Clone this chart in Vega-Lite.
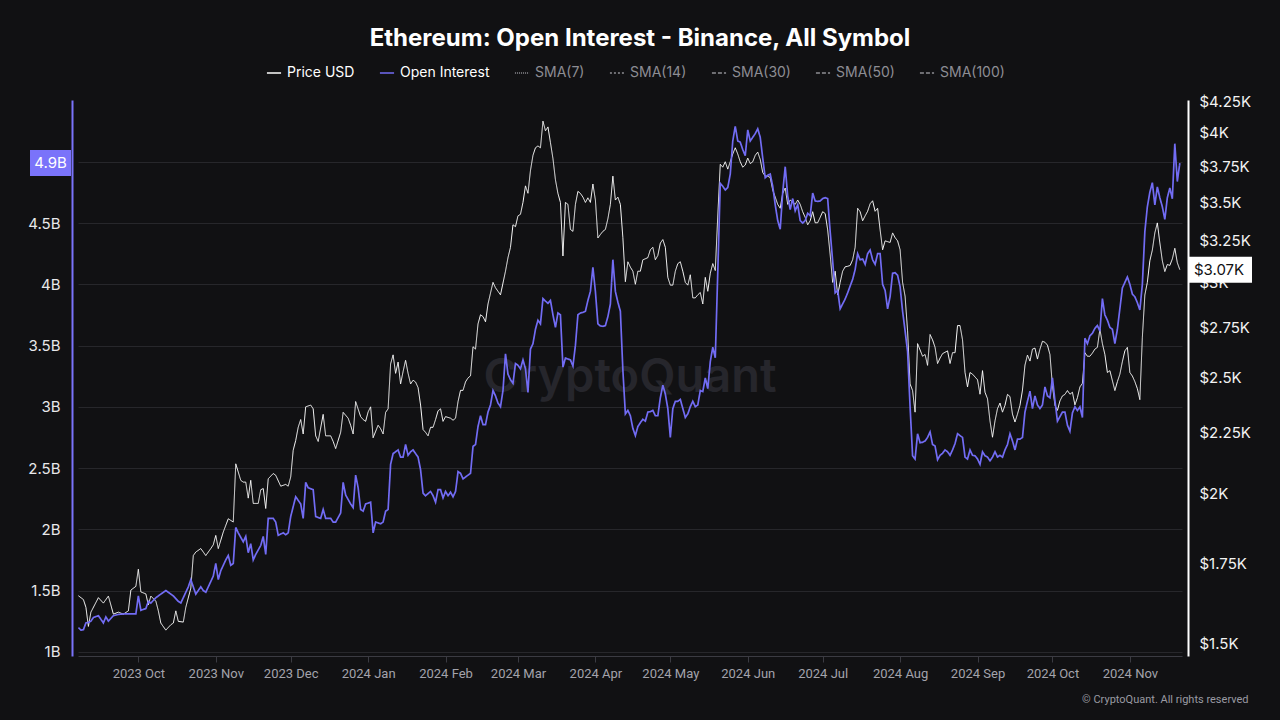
{
  "$schema": "https://vega.github.io/schema/vega-lite/v6.json",
  "width": 1104,
  "height": 556,
  "autosize": {"type": "none"},
  "padding": {"left": 78, "top": 100, "right": 98, "bottom": 64},
  "background": "#111113",
  "title": {
    "text": "Ethereum: Open Interest - Binance, All Symbol",
    "anchor": "middle",
    "frame": "group",
    "dx": 10,
    "offset": 14,
    "fontSize": 24,
    "fontWeight": "bold",
    "font": "Inter",
    "color": "#ffffff"
  },
  "datasets": {
    "latest": [{"oi": 4.99e9, "price": 3075, "oiLabel": "4.9B", "priceLabel": "$3.07K"}],
    "price": [
      {"date":"2023-09-07","price":1644},{"date":"2023-09-09","price":1632},{"date":"2023-09-10","price":1608},{"date":"2023-09-11","price":1550},{"date":"2023-09-12","price":1593},{"date":"2023-09-15","price":1638},{"date":"2023-09-17","price":1621},{"date":"2023-09-19","price":1643},{"date":"2023-09-21","price":1587},{"date":"2023-09-23","price":1593},{"date":"2023-09-25","price":1587},{"date":"2023-09-27","price":1597},{"date":"2023-09-28","price":1662},{"date":"2023-09-30","price":1674},
      {"date":"2023-10-01","price":1730},{"date":"2023-10-02","price":1656},{"date":"2023-10-04","price":1650},{"date":"2023-10-05","price":1615},{"date":"2023-10-06","price":1643},{"date":"2023-10-08","price":1627},{"date":"2023-10-09","price":1597},{"date":"2023-10-10","price":1560},{"date":"2023-10-12","price":1539},{"date":"2023-10-14","price":1555},{"date":"2023-10-15","price":1560},{"date":"2023-10-16","price":1597},{"date":"2023-10-17","price":1565},{"date":"2023-10-19","price":1563},{"date":"2023-10-20","price":1608},{"date":"2023-10-22","price":1668},{"date":"2023-10-23","price":1776},{"date":"2023-10-24","price":1788},{"date":"2023-10-26","price":1800},{"date":"2023-10-28","price":1776},{"date":"2023-10-30","price":1800},{"date":"2023-10-31","price":1813},
      {"date":"2023-11-01","price":1846},{"date":"2023-11-02","price":1800},{"date":"2023-11-04","price":1858},{"date":"2023-11-06","price":1906},{"date":"2023-11-08","price":1894},{"date":"2023-11-09","price":2118},{"date":"2023-11-11","price":2052},{"date":"2023-11-12","price":2045},{"date":"2023-11-13","price":2045},{"date":"2023-11-14","price":1983},{"date":"2023-11-15","price":2052},{"date":"2023-11-16","price":1963},{"date":"2023-11-18","price":1963},{"date":"2023-11-19","price":2015},{"date":"2023-11-20","price":2020},{"date":"2023-11-21","price":1944},{"date":"2023-11-22","price":2058},{"date":"2023-11-24","price":2079},{"date":"2023-11-25","price":2072},{"date":"2023-11-27","price":2029},{"date":"2023-11-29","price":2036},{"date":"2023-11-30","price":2029},
      {"date":"2023-12-01","price":2065},{"date":"2023-12-02","price":2174},{"date":"2023-12-03","price":2215},{"date":"2023-12-04","price":2272},{"date":"2023-12-05","price":2306},{"date":"2023-12-06","price":2243},{"date":"2023-12-07","price":2363},{"date":"2023-12-09","price":2371},{"date":"2023-12-10","price":2354},{"date":"2023-12-11","price":2235},{"date":"2023-12-12","price":2211},{"date":"2023-12-14","price":2329},{"date":"2023-12-15","price":2235},{"date":"2023-12-17","price":2235},{"date":"2023-12-18","price":2211},{"date":"2023-12-19","price":2181},{"date":"2023-12-21","price":2250},{"date":"2023-12-22","price":2338},{"date":"2023-12-24","price":2312},{"date":"2023-12-25","price":2281},{"date":"2023-12-26","price":2243},{"date":"2023-12-27","price":2387},{"date":"2023-12-29","price":2319},{"date":"2023-12-30","price":2306},{"date":"2023-12-31","price":2298},
      {"date":"2024-01-01","price":2340},{"date":"2024-01-02","price":2363},{"date":"2024-01-03","price":2227},{"date":"2024-01-05","price":2281},{"date":"2024-01-06","price":2266},{"date":"2024-01-07","price":2243},{"date":"2024-01-08","price":2338},{"date":"2024-01-09","price":2354},{"date":"2024-01-10","price":2566},{"date":"2024-01-11","price":2611},{"date":"2024-01-12","price":2520},{"date":"2024-01-13","price":2575},{"date":"2024-01-14","price":2469},{"date":"2024-01-15","price":2529},{"date":"2024-01-16","price":2584},{"date":"2024-01-17","price":2520},{"date":"2024-01-18","price":2469},{"date":"2024-01-19","price":2487},{"date":"2024-01-20","price":2478},{"date":"2024-01-21","price":2452},{"date":"2024-01-22","price":2371},{"date":"2024-01-23","price":2262},{"date":"2024-01-24","price":2250},{"date":"2024-01-25","price":2235},{"date":"2024-01-26","price":2272},{"date":"2024-01-27","price":2272},{"date":"2024-01-28","price":2306},{"date":"2024-01-29","price":2345},{"date":"2024-01-30","price":2354},{"date":"2024-01-31","price":2298},
      {"date":"2024-02-01","price":2319},{"date":"2024-02-03","price":2312},{"date":"2024-02-04","price":2303},{"date":"2024-02-05","price":2312},{"date":"2024-02-06","price":2387},{"date":"2024-02-07","price":2439},{"date":"2024-02-08","price":2439},{"date":"2024-02-09","price":2479},{"date":"2024-02-10","price":2498},{"date":"2024-02-11","price":2508},{"date":"2024-02-12","price":2652},{"date":"2024-02-13","price":2640},{"date":"2024-02-14","price":2771},{"date":"2024-02-15","price":2820},{"date":"2024-02-16","price":2810},{"date":"2024-02-17","price":2782},{"date":"2024-02-18","price":2879},{"date":"2024-02-19","price":2940},{"date":"2024-02-20","price":3001},{"date":"2024-02-21","price":2970},{"date":"2024-02-22","price":2950},{"date":"2024-02-23","price":2930},{"date":"2024-02-25","price":3066},{"date":"2024-02-26","price":3147},{"date":"2024-02-27","price":3210},{"date":"2024-02-28","price":3352},{"date":"2024-02-29","price":3340},
      {"date":"2024-03-01","price":3410},{"date":"2024-03-02","price":3420},{"date":"2024-03-03","price":3499},{"date":"2024-03-04","price":3612},{"date":"2024-03-05","price":3561},{"date":"2024-03-06","price":3720},{"date":"2024-03-07","price":3830},{"date":"2024-03-08","price":3886},{"date":"2024-03-09","price":3900},{"date":"2024-03-10","price":3886},{"date":"2024-03-11","price":4090},{"date":"2024-03-12","price":4015},{"date":"2024-03-13","price":4045},{"date":"2024-03-14","price":3925},{"date":"2024-03-15","price":3807},{"date":"2024-03-16","price":3654},{"date":"2024-03-17","price":3560},{"date":"2024-03-18","price":3499},{"date":"2024-03-19","price":3157},{"date":"2024-03-20","price":3499},{"date":"2024-03-21","price":3486},{"date":"2024-03-22","price":3322},{"date":"2024-03-23","price":3310},{"date":"2024-03-24","price":3486},{"date":"2024-03-25","price":3574},{"date":"2024-03-26","price":3560},{"date":"2024-03-27","price":3535},{"date":"2024-03-28","price":3499},{"date":"2024-03-29","price":3530},{"date":"2024-03-30","price":3499},{"date":"2024-03-31","price":3625},
      {"date":"2024-04-01","price":3515},{"date":"2024-04-02","price":3268},{"date":"2024-04-03","price":3290},{"date":"2024-04-04","price":3310},{"date":"2024-04-05","price":3322},{"date":"2024-04-06","price":3391},{"date":"2024-04-07","price":3486},{"date":"2024-04-08","price":3680},{"date":"2024-04-09","price":3515},{"date":"2024-04-10","price":3535},{"date":"2024-04-11","price":3486},{"date":"2024-04-12","price":3270},{"date":"2024-04-13","price":3005},{"date":"2024-04-14","price":3122},{"date":"2024-04-15","price":3090},{"date":"2024-04-16","price":3066},{"date":"2024-04-17","price":2990},{"date":"2024-04-18","price":3066},{"date":"2024-04-19","price":3066},{"date":"2024-04-20","price":3134},{"date":"2024-04-21","price":3140},{"date":"2024-04-22","price":3147},{"date":"2024-04-23","price":3195},{"date":"2024-04-24","price":3210},{"date":"2024-04-25","price":3134},{"date":"2024-04-26","price":3160},{"date":"2024-04-27","price":3236},{"date":"2024-04-28","price":3258},{"date":"2024-04-29","price":3210},{"date":"2024-04-30","price":3030},
      {"date":"2024-05-01","price":2985},{"date":"2024-05-02","price":2985},{"date":"2024-05-03","price":3066},{"date":"2024-05-04","price":3111},{"date":"2024-05-05","price":3122},{"date":"2024-05-06","price":3066},{"date":"2024-05-07","price":3001},{"date":"2024-05-08","price":2985},{"date":"2024-05-09","price":3045},{"date":"2024-05-10","price":2913},{"date":"2024-05-11","price":2913},{"date":"2024-05-12","price":2930},{"date":"2024-05-13","price":2943},{"date":"2024-05-14","price":2879},{"date":"2024-05-15","price":3030},{"date":"2024-05-16","price":2950},{"date":"2024-05-17","price":3054},{"date":"2024-05-18","price":3111},{"date":"2024-05-19","price":3070},{"date":"2024-05-20","price":3410},{"date":"2024-05-21","price":3765},{"date":"2024-05-22","price":3744},{"date":"2024-05-23","price":3783},{"date":"2024-05-24","price":3730},{"date":"2024-05-25","price":3783},{"date":"2024-05-26","price":3840},{"date":"2024-05-27","price":3886},{"date":"2024-05-28","price":3840},{"date":"2024-05-29","price":3783},{"date":"2024-05-30","price":3744},{"date":"2024-05-31","price":3760},
      {"date":"2024-06-01","price":3810},{"date":"2024-06-02","price":3770},{"date":"2024-06-03","price":3783},{"date":"2024-06-04","price":3830},{"date":"2024-06-05","price":3854},{"date":"2024-06-06","price":3800},{"date":"2024-06-07","price":3706},{"date":"2024-06-08","price":3680},{"date":"2024-06-09","price":3680},{"date":"2024-06-10","price":3670},{"date":"2024-06-11","price":3583},{"date":"2024-06-12","price":3535},{"date":"2024-06-13","price":3486},{"date":"2024-06-14","price":3460},{"date":"2024-06-15","price":3560},{"date":"2024-06-16","price":3597},{"date":"2024-06-17","price":3486},{"date":"2024-06-18","price":3515},{"date":"2024-06-19","price":3500},{"date":"2024-06-20","price":3486},{"date":"2024-06-21","price":3515},{"date":"2024-06-22","price":3486},{"date":"2024-06-23","price":3437},{"date":"2024-06-24","price":3400},{"date":"2024-06-25","price":3352},{"date":"2024-06-26","price":3378},{"date":"2024-06-27","price":3437},{"date":"2024-06-28","price":3365},{"date":"2024-06-29","price":3365},{"date":"2024-06-30","price":3400},
      {"date":"2024-07-01","price":3437},{"date":"2024-07-02","price":3425},{"date":"2024-07-03","price":3320},{"date":"2024-07-04","price":3165},{"date":"2024-07-05","price":3001},{"date":"2024-07-06","price":3066},{"date":"2024-07-07","price":2930},{"date":"2024-07-08","price":3001},{"date":"2024-07-09","price":3066},{"date":"2024-07-10","price":3092},{"date":"2024-07-11","price":3095},{"date":"2024-07-12","price":3100},{"date":"2024-07-13","price":3134},{"date":"2024-07-14","price":3210},{"date":"2024-07-15","price":3460},{"date":"2024-07-16","price":3437},{"date":"2024-07-17","price":3378},{"date":"2024-07-18","price":3410},{"date":"2024-07-19","price":3440},{"date":"2024-07-20","price":3490},{"date":"2024-07-21","price":3510},{"date":"2024-07-22","price":3440},{"date":"2024-07-23","price":3460},{"date":"2024-07-24","price":3320},{"date":"2024-07-25","price":3195},{"date":"2024-07-26","price":3250},{"date":"2024-07-27","price":3245},{"date":"2024-07-28","price":3240},{"date":"2024-07-29","price":3300},{"date":"2024-07-30","price":3270},{"date":"2024-07-31","price":3250},
      {"date":"2024-08-01","price":3195},{"date":"2024-08-02","price":3001},{"date":"2024-08-03","price":2922},{"date":"2024-08-04","price":2734},{"date":"2024-08-05","price":2469},{"date":"2024-08-06","price":2438},{"date":"2024-08-07","price":2339},{"date":"2024-08-08","price":2668},{"date":"2024-08-10","price":2604},{"date":"2024-08-11","price":2613},{"date":"2024-08-12","price":2559},{"date":"2024-08-13","price":2715},{"date":"2024-08-14","price":2687},{"date":"2024-08-15","price":2649},{"date":"2024-08-16","price":2568},{"date":"2024-08-17","price":2595},{"date":"2024-08-18","price":2617},{"date":"2024-08-20","price":2631},{"date":"2024-08-21","price":2568},{"date":"2024-08-22","price":2622},{"date":"2024-08-23","price":2622},{"date":"2024-08-24","price":2762},{"date":"2024-08-25","price":2762},{"date":"2024-08-26","price":2687},{"date":"2024-08-27","price":2524},{"date":"2024-08-28","price":2455},{"date":"2024-08-29","price":2524},{"date":"2024-08-30","price":2516},
      {"date":"2024-09-01","price":2489},{"date":"2024-09-02","price":2421},{"date":"2024-09-03","price":2533},{"date":"2024-09-04","price":2430},{"date":"2024-09-05","price":2400},{"date":"2024-09-06","price":2300},{"date":"2024-09-07","price":2229},{"date":"2024-09-08","price":2300},{"date":"2024-09-09","price":2355},{"date":"2024-09-10","price":2380},{"date":"2024-09-11","price":2339},{"date":"2024-09-12","price":2370},{"date":"2024-09-13","price":2420},{"date":"2024-09-14","price":2410},{"date":"2024-09-15","price":2330},{"date":"2024-09-16","price":2295},{"date":"2024-09-17","price":2330},{"date":"2024-09-18","price":2370},{"date":"2024-09-19","price":2440},{"date":"2024-09-20","price":2560},{"date":"2024-09-21","price":2610},{"date":"2024-09-22","price":2580},{"date":"2024-09-23","price":2640},{"date":"2024-09-24","price":2645},{"date":"2024-09-25","price":2590},{"date":"2024-09-26","price":2640},{"date":"2024-09-27","price":2680},{"date":"2024-09-28","price":2675},{"date":"2024-09-29","price":2660},{"date":"2024-09-30","price":2613},
      {"date":"2024-10-01","price":2460},{"date":"2024-10-02","price":2370},{"date":"2024-10-03","price":2347},{"date":"2024-10-04","price":2390},{"date":"2024-10-05","price":2413},{"date":"2024-10-06","price":2420},{"date":"2024-10-07","price":2438},{"date":"2024-10-08","price":2421},{"date":"2024-10-09","price":2430},{"date":"2024-10-10","price":2372},{"date":"2024-10-11","price":2405},{"date":"2024-10-12","price":2455},{"date":"2024-10-13","price":2472},{"date":"2024-10-14","price":2622},{"date":"2024-10-15","price":2604},{"date":"2024-10-16","price":2604},{"date":"2024-10-17","price":2620},{"date":"2024-10-18","price":2640},{"date":"2024-10-19","price":2649},{"date":"2024-10-20","price":2743},{"date":"2024-10-21","price":2668},{"date":"2024-10-22","price":2613},{"date":"2024-10-23","price":2524},{"date":"2024-10-24","price":2533},{"date":"2024-10-26","price":2438},{"date":"2024-10-27","price":2480},{"date":"2024-10-28","price":2516},{"date":"2024-10-29","price":2577},{"date":"2024-10-30","price":2631},{"date":"2024-10-31","price":2649},
      {"date":"2024-11-01","price":2524},{"date":"2024-11-02","price":2507},{"date":"2024-11-03","price":2480},{"date":"2024-11-04","price":2447},{"date":"2024-11-05","price":2396},{"date":"2024-11-06","price":2700},{"date":"2024-11-07","price":2929},{"date":"2024-11-08","price":3001},{"date":"2024-11-09","price":3128},{"date":"2024-11-10","price":3193},{"date":"2024-11-11","price":3300},{"date":"2024-11-12","price":3364},{"date":"2024-11-13","price":3238},{"date":"2024-11-14","price":3128},{"date":"2024-11-15","price":3064},{"date":"2024-11-16","price":3106},{"date":"2024-11-17","price":3100},{"date":"2024-11-18","price":3139},{"date":"2024-11-19","price":3204},{"date":"2024-11-20","price":3117},{"date":"2024-11-21","price":3075}
    ],
    "oi": [
      {"date":"2023-09-07","oi":1.198e9},{"date":"2023-09-08","oi":1.177e9},{"date":"2023-09-09","oi":1.18e9},{"date":"2023-09-10","oi":1.236e9},{"date":"2023-09-11","oi":1.24e9},{"date":"2023-09-12","oi":1.25e9},{"date":"2023-09-13","oi":1.28e9},{"date":"2023-09-15","oi":1.295e9},{"date":"2023-09-17","oi":1.236e9},{"date":"2023-09-18","oi":1.285e9},{"date":"2023-09-19","oi":1.25e9},{"date":"2023-09-21","oi":1.295e9},{"date":"2023-09-23","oi":1.305e9},{"date":"2023-09-25","oi":1.309e9},{"date":"2023-09-27","oi":1.309e9},{"date":"2023-09-30","oi":1.309e9},
      {"date":"2023-10-01","oi":1.456e9},{"date":"2023-10-02","oi":1.339e9},{"date":"2023-10-04","oi":1.353e9},{"date":"2023-10-05","oi":1.412e9},{"date":"2023-10-06","oi":1.398e9},{"date":"2023-10-08","oi":1.441e9},{"date":"2023-10-10","oi":1.471e9},{"date":"2023-10-12","oi":1.5e9},{"date":"2023-10-14","oi":1.471e9},{"date":"2023-10-15","oi":1.456e9},{"date":"2023-10-17","oi":1.412e9},{"date":"2023-10-18","oi":1.398e9},{"date":"2023-10-20","oi":1.486e9},{"date":"2023-10-21","oi":1.53e9},{"date":"2023-10-22","oi":1.589e9},{"date":"2023-10-24","oi":1.471e9},{"date":"2023-10-26","oi":1.53e9},{"date":"2023-10-27","oi":1.5e9},{"date":"2023-10-28","oi":1.486e9},{"date":"2023-10-30","oi":1.574e9},{"date":"2023-10-31","oi":1.618e9},
      {"date":"2023-11-01","oi":1.721e9},{"date":"2023-11-02","oi":1.589e9},{"date":"2023-11-03","oi":1.662e9},{"date":"2023-11-05","oi":1.75e9},{"date":"2023-11-06","oi":1.786e9},{"date":"2023-11-07","oi":1.706e9},{"date":"2023-11-08","oi":1.721e9},{"date":"2023-11-09","oi":2.015e9},{"date":"2023-11-10","oi":1.971e9},{"date":"2023-11-12","oi":1.898e9},{"date":"2023-11-13","oi":1.942e9},{"date":"2023-11-14","oi":1.809e9},{"date":"2023-11-15","oi":1.883e9},{"date":"2023-11-16","oi":1.75e9},{"date":"2023-11-17","oi":1.795e9},{"date":"2023-11-19","oi":1.868e9},{"date":"2023-11-20","oi":1.942e9},{"date":"2023-11-21","oi":1.795e9},{"date":"2023-11-22","oi":2.089e9},{"date":"2023-11-24","oi":2.089e9},{"date":"2023-11-25","oi":2.059e9},{"date":"2023-11-26","oi":1.951e9},{"date":"2023-11-28","oi":1.971e9},{"date":"2023-11-29","oi":1.956e9},{"date":"2023-11-30","oi":1.971e9},
      {"date":"2023-12-01","oi":2.104e9},{"date":"2023-12-03","oi":2.266e9},{"date":"2023-12-04","oi":2.236e9},{"date":"2023-12-05","oi":2.207e9},{"date":"2023-12-06","oi":2.089e9},{"date":"2023-12-07","oi":2.383e9},{"date":"2023-12-08","oi":2.339e9},{"date":"2023-12-10","oi":2.324e9},{"date":"2023-12-11","oi":2.104e9},{"date":"2023-12-13","oi":2.089e9},{"date":"2023-12-14","oi":2.162e9},{"date":"2023-12-15","oi":2.089e9},{"date":"2023-12-17","oi":2.089e9},{"date":"2023-12-18","oi":2.059e9},{"date":"2023-12-19","oi":2.059e9},{"date":"2023-12-21","oi":2.133e9},{"date":"2023-12-22","oi":2.383e9},{"date":"2023-12-23","oi":2.28e9},{"date":"2023-12-25","oi":2.207e9},{"date":"2023-12-26","oi":2.177e9},{"date":"2023-12-27","oi":2.442e9},{"date":"2023-12-28","oi":2.339e9},{"date":"2023-12-29","oi":2.162e9},{"date":"2023-12-30","oi":2.148e9},{"date":"2023-12-31","oi":2.207e9},
      {"date":"2024-01-02","oi":2.221e9},{"date":"2024-01-03","oi":1.971e9},{"date":"2024-01-04","oi":2.059e9},{"date":"2024-01-06","oi":2.045e9},{"date":"2024-01-07","oi":2.059e9},{"date":"2024-01-08","oi":2.148e9},{"date":"2024-01-09","oi":2.162e9},{"date":"2024-01-10","oi":2.53e9},{"date":"2024-01-11","oi":2.618e9},{"date":"2024-01-12","oi":2.633e9},{"date":"2024-01-13","oi":2.648e9},{"date":"2024-01-14","oi":2.589e9},{"date":"2024-01-15","oi":2.589e9},{"date":"2024-01-16","oi":2.692e9},{"date":"2024-01-17","oi":2.604e9},{"date":"2024-01-18","oi":2.633e9},{"date":"2024-01-19","oi":2.648e9},{"date":"2024-01-20","oi":2.618e9},{"date":"2024-01-21","oi":2.589e9},{"date":"2024-01-22","oi":2.486e9},{"date":"2024-01-23","oi":2.295e9},{"date":"2024-01-24","oi":2.274e9},{"date":"2024-01-26","oi":2.309e9},{"date":"2024-01-27","oi":2.274e9},{"date":"2024-01-28","oi":2.221e9},{"date":"2024-01-29","oi":2.324e9},{"date":"2024-01-30","oi":2.324e9},{"date":"2024-01-31","oi":2.256e9},
      {"date":"2024-02-01","oi":2.309e9},{"date":"2024-02-02","oi":2.274e9},{"date":"2024-02-03","oi":2.303e9},{"date":"2024-02-04","oi":2.265e9},{"date":"2024-02-05","oi":2.309e9},{"date":"2024-02-06","oi":2.471e9},{"date":"2024-02-07","oi":2.457e9},{"date":"2024-02-08","oi":2.412e9},{"date":"2024-02-10","oi":2.442e9},{"date":"2024-02-11","oi":2.457e9},{"date":"2024-02-12","oi":2.677e9},{"date":"2024-02-13","oi":2.692e9},{"date":"2024-02-14","oi":2.839e9},{"date":"2024-02-15","oi":2.927e9},{"date":"2024-02-16","oi":2.854e9},{"date":"2024-02-17","oi":2.854e9},{"date":"2024-02-18","oi":2.957e9},{"date":"2024-02-19","oi":3.015e9},{"date":"2024-02-20","oi":3.133e9},{"date":"2024-02-21","oi":3.089e9},{"date":"2024-02-22","oi":3.03e9},{"date":"2024-02-23","oi":3.001e9},{"date":"2024-02-24","oi":3.133e9},{"date":"2024-02-25","oi":3.433e9},{"date":"2024-02-26","oi":3.266e9},{"date":"2024-02-27","oi":3.221e9},{"date":"2024-02-28","oi":3.192e9},{"date":"2024-02-29","oi":3.354e9},
      {"date":"2024-03-01","oi":3.339e9},{"date":"2024-03-02","oi":3.31e9},{"date":"2024-03-03","oi":3.383e9},{"date":"2024-03-04","oi":3.31e9},{"date":"2024-03-05","oi":3.118e9},{"date":"2024-03-06","oi":3.471e9},{"date":"2024-03-07","oi":3.515e9},{"date":"2024-03-08","oi":3.633e9},{"date":"2024-03-09","oi":3.707e9},{"date":"2024-03-10","oi":3.677e9},{"date":"2024-03-11","oi":3.883e9},{"date":"2024-03-12","oi":3.863e9},{"date":"2024-03-13","oi":3.845e9},{"date":"2024-03-14","oi":3.868e9},{"date":"2024-03-15","oi":3.751e9},{"date":"2024-03-16","oi":3.648e9},{"date":"2024-03-17","oi":3.766e9},{"date":"2024-03-18","oi":3.751e9},{"date":"2024-03-19","oi":3.324e9},{"date":"2024-03-20","oi":3.398e9},{"date":"2024-03-21","oi":3.39e9},{"date":"2024-03-22","oi":3.383e9},{"date":"2024-03-23","oi":3.333e9},{"date":"2024-03-24","oi":3.501e9},{"date":"2024-03-25","oi":3.751e9},{"date":"2024-03-26","oi":3.766e9},{"date":"2024-03-27","oi":3.77e9},{"date":"2024-03-28","oi":3.78e9},{"date":"2024-03-29","oi":3.868e9},{"date":"2024-03-30","oi":3.942e9},{"date":"2024-03-31","oi":4.139e9},
      {"date":"2024-04-01","oi":3.942e9},{"date":"2024-04-02","oi":3.677e9},{"date":"2024-04-03","oi":3.66e9},{"date":"2024-04-04","oi":3.657e9},{"date":"2024-04-05","oi":3.663e9},{"date":"2024-04-06","oi":3.736e9},{"date":"2024-04-07","oi":3.839e9},{"date":"2024-04-08","oi":4.201e9},{"date":"2024-04-09","oi":3.942e9},{"date":"2024-04-10","oi":3.854e9},{"date":"2024-04-11","oi":3.78e9},{"date":"2024-04-12","oi":3.3e9},{"date":"2024-04-13","oi":2.942e9},{"date":"2024-04-14","oi":2.971e9},{"date":"2024-04-15","oi":2.927e9},{"date":"2024-04-16","oi":2.824e9},{"date":"2024-04-17","oi":2.765e9},{"date":"2024-04-18","oi":2.839e9},{"date":"2024-04-19","oi":2.87e9},{"date":"2024-04-20","oi":2.898e9},{"date":"2024-04-21","oi":2.883e9},{"date":"2024-04-22","oi":2.957e9},{"date":"2024-04-23","oi":2.96e9},{"date":"2024-04-24","oi":2.971e9},{"date":"2024-04-25","oi":2.927e9},{"date":"2024-04-26","oi":2.927e9},{"date":"2024-04-27","oi":3.074e9},{"date":"2024-04-28","oi":3.177e9},{"date":"2024-04-29","oi":3.104e9},{"date":"2024-04-30","oi":2.986e9},
      {"date":"2024-05-01","oi":2.75e9},{"date":"2024-05-02","oi":2.986e9},{"date":"2024-05-03","oi":3.045e9},{"date":"2024-05-04","oi":3.045e9},{"date":"2024-05-05","oi":3.06e9},{"date":"2024-05-06","oi":2.986e9},{"date":"2024-05-07","oi":2.913e9},{"date":"2024-05-08","oi":2.942e9},{"date":"2024-05-09","oi":3.001e9},{"date":"2024-05-10","oi":3.045e9},{"date":"2024-05-11","oi":3.001e9},{"date":"2024-05-12","oi":3.015e9},{"date":"2024-05-13","oi":3.133e9},{"date":"2024-05-14","oi":3.124e9},{"date":"2024-05-15","oi":3.236e9},{"date":"2024-05-16","oi":3.148e9},{"date":"2024-05-17","oi":3.369e9},{"date":"2024-05-18","oi":3.486e9},{"date":"2024-05-19","oi":3.4e9},{"date":"2024-05-20","oi":4.1e9},{"date":"2024-05-21","oi":4.824e9},{"date":"2024-05-22","oi":4.8e9},{"date":"2024-05-23","oi":4.77e9},{"date":"2024-05-24","oi":4.79e9},{"date":"2024-05-25","oi":4.9e9},{"date":"2024-05-26","oi":5.17e9},{"date":"2024-05-27","oi":5.29e9},{"date":"2024-05-28","oi":5.17e9},{"date":"2024-05-29","oi":5.16e9},{"date":"2024-05-30","oi":5.1e9},{"date":"2024-05-31","oi":5.05e9},
      {"date":"2024-06-01","oi":5.26e9},{"date":"2024-06-02","oi":5.17e9},{"date":"2024-06-03","oi":5.2e9},{"date":"2024-06-04","oi":5.23e9},{"date":"2024-06-05","oi":5.27e9},{"date":"2024-06-06","oi":5.2e9},{"date":"2024-06-07","oi":5.03e9},{"date":"2024-06-08","oi":4.87e9},{"date":"2024-06-09","oi":4.89e9},{"date":"2024-06-10","oi":4.9e9},{"date":"2024-06-11","oi":4.8e9},{"date":"2024-06-12","oi":4.65e9},{"date":"2024-06-13","oi":4.52e9},{"date":"2024-06-14","oi":4.45e9},{"date":"2024-06-15","oi":4.75e9},{"date":"2024-06-16","oi":4.96e9},{"date":"2024-06-17","oi":4.72e9},{"date":"2024-06-18","oi":4.61e9},{"date":"2024-06-19","oi":4.7e9},{"date":"2024-06-20","oi":4.6e9},{"date":"2024-06-21","oi":4.65e9},{"date":"2024-06-22","oi":4.52e9},{"date":"2024-06-23","oi":4.5e9},{"date":"2024-06-24","oi":4.52e9},{"date":"2024-06-25","oi":4.58e9},{"date":"2024-06-26","oi":4.56e9},{"date":"2024-06-27","oi":4.745e9},{"date":"2024-06-28","oi":4.68e9},{"date":"2024-06-29","oi":4.677e9},{"date":"2024-06-30","oi":4.68e9},
      {"date":"2024-07-01","oi":4.7e9},{"date":"2024-07-02","oi":4.707e9},{"date":"2024-07-03","oi":4.7e9},{"date":"2024-07-04","oi":4.43e9},{"date":"2024-07-05","oi":4.19e9},{"date":"2024-07-06","oi":3.93e9},{"date":"2024-07-07","oi":3.95e9},{"date":"2024-07-08","oi":3.8e9},{"date":"2024-07-09","oi":3.84e9},{"date":"2024-07-10","oi":3.88e9},{"date":"2024-07-11","oi":3.93e9},{"date":"2024-07-12","oi":3.986e9},{"date":"2024-07-13","oi":4.04e9},{"date":"2024-07-14","oi":4.12e9},{"date":"2024-07-15","oi":4.25e9},{"date":"2024-07-16","oi":4.2e9},{"date":"2024-07-17","oi":4.207e9},{"date":"2024-07-18","oi":4.163e9},{"date":"2024-07-19","oi":4.25e9},{"date":"2024-07-20","oi":4.28e9},{"date":"2024-07-21","oi":4.2e9},{"date":"2024-07-22","oi":4.163e9},{"date":"2024-07-23","oi":4.25e9},{"date":"2024-07-24","oi":4.251e9},{"date":"2024-07-25","oi":4.0e9},{"date":"2024-07-26","oi":3.95e9},{"date":"2024-07-27","oi":3.8e9},{"date":"2024-07-28","oi":3.9e9},{"date":"2024-07-29","oi":4.09e9},{"date":"2024-07-30","oi":4.095e9},{"date":"2024-07-31","oi":4.074e9},
      {"date":"2024-08-01","oi":3.98e9},{"date":"2024-08-02","oi":3.78e9},{"date":"2024-08-03","oi":3.62e9},{"date":"2024-08-04","oi":3.45e9},{"date":"2024-08-05","oi":3.0e9},{"date":"2024-08-06","oi":2.6e9},{"date":"2024-08-07","oi":2.574e9},{"date":"2024-08-08","oi":2.78e9},{"date":"2024-08-09","oi":2.707e9},{"date":"2024-08-10","oi":2.71e9},{"date":"2024-08-11","oi":2.721e9},{"date":"2024-08-12","oi":2.75e9},{"date":"2024-08-13","oi":2.795e9},{"date":"2024-08-14","oi":2.692e9},{"date":"2024-08-15","oi":2.68e9},{"date":"2024-08-16","oi":2.568e9},{"date":"2024-08-17","oi":2.604e9},{"date":"2024-08-18","oi":2.62e9},{"date":"2024-08-19","oi":2.648e9},{"date":"2024-08-20","oi":2.633e9},{"date":"2024-08-21","oi":2.604e9},{"date":"2024-08-22","oi":2.648e9},{"date":"2024-08-23","oi":2.7e9},{"date":"2024-08-24","oi":2.78e9},{"date":"2024-08-25","oi":2.765e9},{"date":"2024-08-26","oi":2.75e9},{"date":"2024-08-27","oi":2.589e9},{"date":"2024-08-28","oi":2.574e9},{"date":"2024-08-29","oi":2.648e9},{"date":"2024-08-30","oi":2.604e9},{"date":"2024-08-31","oi":2.6e9},
      {"date":"2024-09-01","oi":2.574e9},{"date":"2024-09-02","oi":2.53e9},{"date":"2024-09-03","oi":2.633e9},{"date":"2024-09-04","oi":2.6e9},{"date":"2024-09-05","oi":2.589e9},{"date":"2024-09-06","oi":2.559e9},{"date":"2024-09-07","oi":2.589e9},{"date":"2024-09-08","oi":2.633e9},{"date":"2024-09-09","oi":2.59e9},{"date":"2024-09-10","oi":2.604e9},{"date":"2024-09-11","oi":2.589e9},{"date":"2024-09-12","oi":2.648e9},{"date":"2024-09-13","oi":2.692e9},{"date":"2024-09-14","oi":2.78e9},{"date":"2024-09-15","oi":2.721e9},{"date":"2024-09-16","oi":2.648e9},{"date":"2024-09-17","oi":2.736e9},{"date":"2024-09-18","oi":2.736e9},{"date":"2024-09-19","oi":2.75e9},{"date":"2024-09-20","oi":2.957e9},{"date":"2024-09-21","oi":3.045e9},{"date":"2024-09-22","oi":3.127e9},{"date":"2024-09-23","oi":2.986e9},{"date":"2024-09-24","oi":3.089e9},{"date":"2024-09-25","oi":3.015e9},{"date":"2024-09-26","oi":2.986e9},{"date":"2024-09-27","oi":3.015e9},{"date":"2024-09-28","oi":3.162e9},{"date":"2024-09-29","oi":3.089e9},{"date":"2024-09-30","oi":3.074e9},
      {"date":"2024-10-01","oi":3.236e9},{"date":"2024-10-02","oi":3.05e9},{"date":"2024-10-03","oi":2.883e9},{"date":"2024-10-04","oi":2.92e9},{"date":"2024-10-05","oi":2.957e9},{"date":"2024-10-06","oi":2.957e9},{"date":"2024-10-07","oi":2.85e9},{"date":"2024-10-08","oi":2.8e9},{"date":"2024-10-09","oi":2.95e9},{"date":"2024-10-10","oi":3.0e9},{"date":"2024-10-11","oi":2.97e9},{"date":"2024-10-12","oi":3.0e9},{"date":"2024-10-13","oi":2.913e9},{"date":"2024-10-14","oi":3.56e9},{"date":"2024-10-15","oi":3.515e9},{"date":"2024-10-16","oi":3.58e9},{"date":"2024-10-17","oi":3.6e9},{"date":"2024-10-18","oi":3.64e9},{"date":"2024-10-19","oi":3.663e9},{"date":"2024-10-20","oi":3.618e9},{"date":"2024-10-21","oi":3.883e9},{"date":"2024-10-22","oi":3.75e9},{"date":"2024-10-23","oi":3.707e9},{"date":"2024-10-24","oi":3.648e9},{"date":"2024-10-25","oi":3.633e9},{"date":"2024-10-26","oi":3.515e9},{"date":"2024-10-27","oi":3.633e9},{"date":"2024-10-28","oi":3.8e9},{"date":"2024-10-29","oi":3.97e9},{"date":"2024-10-30","oi":4.015e9},{"date":"2024-10-31","oi":4.06e9},
      {"date":"2024-11-01","oi":4.0e9},{"date":"2024-11-02","oi":3.92e9},{"date":"2024-11-03","oi":3.898e9},{"date":"2024-11-04","oi":3.85e9},{"date":"2024-11-05","oi":3.79e9},{"date":"2024-11-06","oi":4.0e9},{"date":"2024-11-07","oi":4.43e9},{"date":"2024-11-08","oi":4.633e9},{"date":"2024-11-09","oi":4.751e9},{"date":"2024-11-10","oi":4.83e9},{"date":"2024-11-11","oi":4.648e9},{"date":"2024-11-12","oi":4.795e9},{"date":"2024-11-13","oi":4.707e9},{"date":"2024-11-14","oi":4.633e9},{"date":"2024-11-15","oi":4.53e9},{"date":"2024-11-16","oi":4.707e9},{"date":"2024-11-17","oi":4.786e9},{"date":"2024-11-18","oi":4.698e9},{"date":"2024-11-19","oi":5.148e9},{"date":"2024-11-20","oi":4.839e9},{"date":"2024-11-21","oi":4.99e9}
    ]
  },
  "layer": [
    {
      "data": {"values": [{"watermark": "CryptoQuant"}]},
      "mark": {"type": "text", "x": {"expr": "width / 2"}, "y": {"expr": "height / 2"}, "align": "center", "baseline": "middle", "fontSize": 47, "fontWeight": 600, "font": "Inter", "color": "#26262c"},
      "encoding": {"text": {"field": "watermark"}}
    },
    {
      "encoding": {
        "y": {
          "field": "price", "type": "quantitative",
          "scale": {"type": "log", "domain": [1464.4, 4259.5], "nice": false},
          "axis": {
            "orient": "right", "offset": 6,
            "values": [1500, 1750, 2000, 2250, 2500, 2750, 3000, 3250, 3500, 3750, 4000, 4250],
            "labelExpr": "'$' + (datum.value / 1000) + 'K'",
            "labelColor": "#f2f2f2", "labelFontSize": 15, "labelFont": "Inter", "labelPadding": 11,
            "ticks": false, "tickSize": 0, "domainColor": "#ffffff", "domainWidth": 2, "grid": false, "title": null
          }
        }
      },
      "layer": [
        {
          "data": {"name": "price"},
          "mark": {"type": "line", "strokeWidth": 1, "interpolate": "linear"},
          "encoding": {
            "x": {
              "field": "date", "type": "temporal",
              "scale": {"type": "utc", "domain": [{"year": 2023, "month": 9, "date": 6, "hours": 20, "utc": true}, {"year": 2024, "month": 11, "date": 21, "hours": 21, "utc": true}]},
              "axis": {
                "format": "%Y %b", "tickCount": {"interval": "month", "step": 1},
                "labelColor": "#a3a3ab", "labelFontSize": 13, "labelFont": "Roboto", "labelPadding": 5,
                "ticks": true, "tickSize": 6, "tickColor": "#3b3b42", "domainColor": "#3b3b42", "domainWidth": 1,
                "grid": false, "labelFlush": false, "labelOverlap": false,
                "title": "© CryptoQuant. All rights reserved", "titleAnchor": "end", "titleAlign": "right",
                "titleX": 1170, "titleY": 46, "titleBaseline": "alphabetic", "titleFontSize": 11,
                "titleFontWeight": "normal", "titleColor": "#9a9aa2", "titleFont": "Roboto"
              }
            },
            "color": {
              "datum": "Price USD", "type": "nominal",
              "scale": {"domain": ["Price USD", "Open Interest", "SMA(7)", "SMA(14)", "SMA(30)", "SMA(50)", "SMA(100)"], "range": ["#ffffff", "#726cf4", "#8d8d93", "#8d8d93", "#8d8d93", "#8d8d93", "#8d8d93"]},
              "legend": {
                "orient": "none", "legendX": 188, "legendY": -35, "direction": "horizontal", "title": null,
                "symbolType": "stroke", "symbolSize": 200, "symbolStrokeWidth": 1.5,
                "labelFontSize": 14, "labelFont": "Inter", "labelOffset": 5, "columnPadding": 21, "padding": 0,
                "labelColor": {"expr": "indexof(['Price USD', 'Open Interest'], datum.label) >= 0 ? '#ffffff' : '#8d8d93'"}
              }
            },
            "strokeDash": {
              "datum": "Price USD", "type": "nominal",
              "scale": {"domain": ["Price USD", "Open Interest", "SMA(7)", "SMA(14)", "SMA(30)", "SMA(50)", "SMA(100)"], "range": [[1, 0], [1, 0], [1, 1], [2, 2], [4, 2], [4, 2], [4, 2]]},
              "legend": {
                "orient": "none", "legendX": 188, "legendY": -35, "direction": "horizontal", "title": null,
                "symbolType": "stroke", "symbolSize": 200, "symbolStrokeWidth": 1.5,
                "labelFontSize": 14, "labelFont": "Inter", "labelOffset": 5, "columnPadding": 21, "padding": 0,
                "labelColor": {"expr": "indexof(['Price USD', 'Open Interest'], datum.label) >= 0 ? '#ffffff' : '#8d8d93'"}
              }
            }
          }
        },
        {
          "data": {"name": "latest"},
          "mark": {"type": "tick", "orient": "horizontal", "size": 64, "thickness": 26, "color": "#ffffff", "opacity": 1},
          "encoding": {"x": {"value": 1142}}
        },
        {
          "data": {"name": "latest"},
          "mark": {"type": "text", "align": "center", "baseline": "middle", "fontSize": 15, "font": "Inter", "color": "#111113"},
          "encoding": {"x": {"value": 1141}, "text": {"field": "priceLabel"}}
        }
      ]
    },
    {
      "encoding": {
        "y": {
          "field": "oi", "type": "quantitative",
          "scale": {"domain": [965700000, 5504500000], "zero": false, "nice": false},
          "axis": {
            "orient": "left", "offset": 6,
            "values": [1000000000, 1500000000, 2000000000, 2500000000, 3000000000, 3500000000, 4000000000, 4500000000, 5000000000],
            "labelExpr": "datum.value >= 4.99e9 ? '' : (datum.value / 1e9) + 'B'",
            "labelColor": "#e8e8ea", "labelFontSize": 15, "labelFont": "Inter", "labelPadding": 12,
            "ticks": false, "tickSize": 0, "domainColor": "#7a73fa", "domainWidth": 2,
            "grid": true, "gridColor": "#27272b", "gridWidth": 1, "title": null
          }
        }
      },
      "layer": [
        {
          "data": {"name": "oi"},
          "mark": {"type": "line", "strokeWidth": 1.7, "interpolate": "linear"},
          "encoding": {
            "x": {"field": "date", "type": "temporal"},
            "color": {"datum": "Open Interest", "type": "nominal"},
            "strokeDash": {"datum": "Open Interest", "type": "nominal"}
          }
        },
        {
          "data": {"name": "latest"},
          "mark": {"type": "tick", "orient": "horizontal", "size": 41, "thickness": 26, "color": "#7a73fa", "opacity": 1},
          "encoding": {"x": {"value": -27.5}}
        },
        {
          "data": {"name": "latest"},
          "mark": {"type": "text", "align": "center", "baseline": "middle", "fontSize": 15, "font": "Inter", "color": "#ffffff"},
          "encoding": {"x": {"value": -27.5}, "text": {"field": "oiLabel"}}
        }
      ]
    }
  ],
  "resolve": {"scale": {"y": "independent"}, "axis": {"y": "independent"}},
  "config": {
    "view": {"stroke": null},
    "axis": {"labelFont": "Inter"},
    "legend": {"labelFont": "Inter"}
  }
}
